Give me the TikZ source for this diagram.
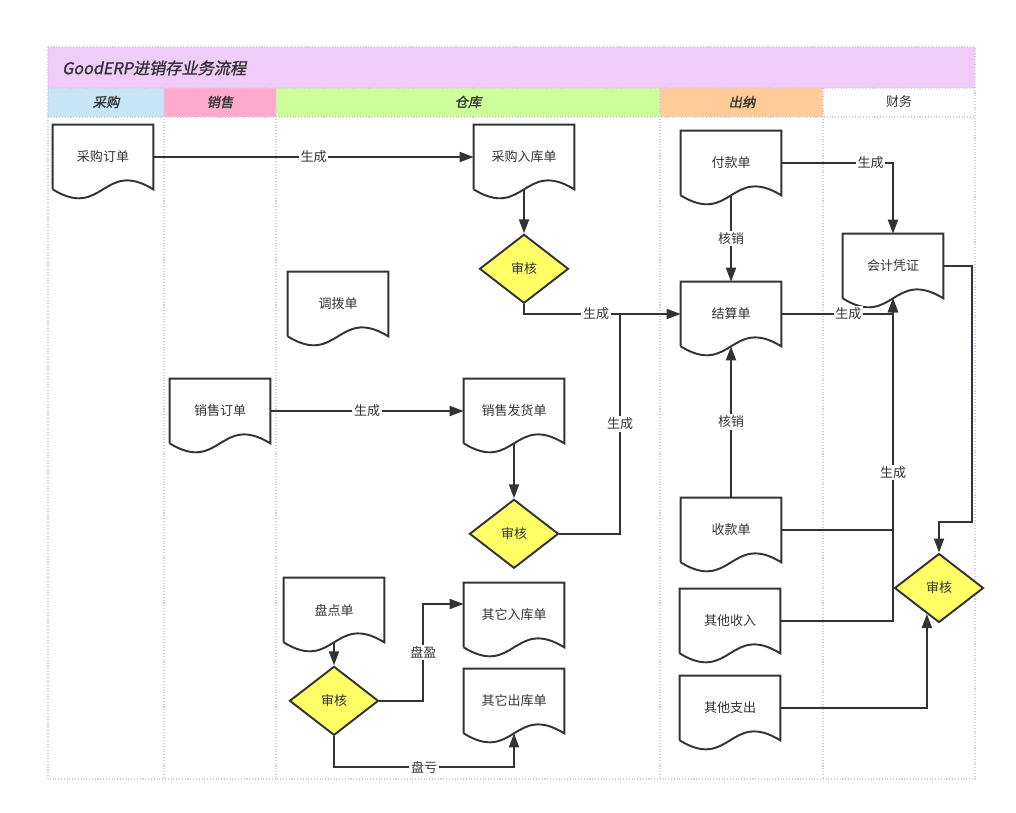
\documentclass[tikz,border=0pt]{standalone}
\usepackage{fontspec}
\setmainfont{Noto Sans CJK SC}
\newfontfamily\titlefont[FakeSlant=0.2, FakeBold=1.2]{Noto Sans CJK SC}
\newfontfamily\headfont[FakeSlant=0.2, FakeBold=1.2]{Noto Sans CJK SC}
\usepackage{xcolor}
\definecolor{erpline}{HTML}{333333}
\definecolor{erptitle}{HTML}{EFCCFA}
\definecolor{erpbuy}{HTML}{C6E6F7}
\definecolor{erpsale}{HTML}{FFAACC}
\definecolor{erpstock}{HTML}{CCFF99}
\definecolor{erpcash}{HTML}{FFCC99}
\definecolor{erpcheck}{HTML}{FFFF66}
\definecolor{erplane}{HTML}{DCC8E2}
\usetikzlibrary{shapes.geometric, arrows.meta, positioning, calc}

\begin{document}
\begin{tikzpicture}[
  x=0.02cm, y=-0.02cm, text=erpline,
  font=\fontsize{7.4}{9}\selectfont,
  doc/.style={rectangle, minimum width=2cm, minimum height=1.28cm,
              inner sep=0pt, align=center},
  check/.style={diamond, draw=erpline, fill=erpcheck, line width=1.1pt,
                minimum width=1.78cm, minimum height=1.38cm, inner sep=0pt},
  docline/.style={draw=erpline, line width=1.1pt, line join=miter},
  arr/.style={-{Triangle[length=0.28cm, width=0.2cm]}, line width=1.1pt,
              color=erpline},
  link/.style={line width=1.1pt, color=erpline},
  lbl/.style={fill=white, inner sep=1pt},
  lane/.style={draw=erplane, densely dotted, line width=0.6pt},
  head/.style={font=\headfont\fontsize{7.6}{9}\selectfont}
]
  \useasboundingbox (0,0) rectangle (1016,812);

  % pool, title band and lane heads
  \fill[erptitle] (48,47) rectangle (975,88);
  \fill[erpbuy]   (48,88)  rectangle (164,117);
  \fill[erpsale]  (164,88) rectangle (276,117);
  \fill[erpstock] (276,88) rectangle (660,117);
  \fill[erpcash]  (660,88) rectangle (823,117);
  \draw[lane] (48,47) rectangle (975,779);
  \draw[lane] (48,88) -- (975,88) (48,117) -- (975,117);
  \foreach \lx in {164,276,660,823}
    \draw[lane] (\lx,88) -- (\lx,779);

  \node[anchor=west, font=\titlefont\fontsize{9.2}{11}\selectfont]
    (title) at (56,68) {GoodERP进销存业务流程};
  \node[head] (hbuy)   at (106,102) {采购};
  \node[head] (hsale)  at (220,102) {销售};
  \node[head] (hstock) at (468,102) {仓库};
  \node[head] (hcash)  at (742,102) {出纳};
  \node       (hfin)   at (899,102) {财务};

  % documents
  \node[doc] (cgdd) at (103,157) {采购订单};
  \node[doc] (cgrk) at (524,157) {采购入库单};
  \node[doc] (dbd)  at (338,304) {调拨单};
  \node[doc] (fkd)  at (731,163) {付款单};
  \node[doc] (pz)   at (893,266) {会计凭证};
  \node[doc] (jsd)  at (731,314) {结算单};
  \node[doc] (xsdd) at (220,411) {销售订单};
  \node[doc] (xsfh) at (514,411) {销售发货单};
  \node[doc] (skd)  at (731,530) {收款单};
  \node[doc] (qtsr) at (730,621) {其他收入};
  \node[doc] (qtzc) at (730,708) {其他支出};
  \node[doc] (pdd)  at (334,610) {盘点单};
  \node[doc] (qtrk) at (514,615) {其它入库单};
  \node[doc] (qtck) at (514,701) {其它出库单};

  \foreach \d in {cgdd,cgrk,dbd,fkd,pz,jsd,xsdd,xsfh,skd,qtsr,qtzc,pdd,qtrk,qtck}
    \draw[docline] (\d.south west) -- (\d.north west) -- (\d.north east)
      -- (\d.south east) .. controls ($(\d.south)+(0,-31)$)
      and ($(\d.south)+(0,31)$) .. (\d.south west);

  % checks
  \node[check, below=0.88cm of cgrk] (sh1) {审核};
  \node[check, below=1.1cm of xsfh]  (sh2) {审核};
  \node[check] (sh3) at (939,588) {审核};
  \node[check, below=0.46cm of pdd]  (sh4) {审核};

  % purchase and sale
  \draw[arr] (cgdd.east) -- node[lbl] {生成} (cgrk.west);
  \draw[arr] (cgrk.south) -- (sh1.north);
  \draw[arr] (sh1.south) |- node[lbl, pos=0.73] {生成} (jsd.west);
  \coordinate (jn) at (620,314);
  \draw[link] (sh2.east) -| node[lbl, pos=0.75] {生成} (jn);
  \draw[arr] (xsdd.east) -- node[lbl] {生成} (xsfh.west);
  \draw[arr] (xsfh.south) -- (sh2.north);

  % cashier and finance
  \draw[arr] (fkd.south) -- node[lbl] {核销} (jsd.north);
  \draw[arr] (skd.north) -- node[lbl] {核销} (jsd.south);
  \draw[arr] (fkd.east) -| node[lbl, pos=0.4] {生成} (pz.north);
  \draw[arr] (jsd.east) -| node[lbl, pos=0.3] {生成} (pz.south);
  \draw[arr] (qtsr.east) -| node[lbl, pos=0.73] {生成} (pz.south);
  \draw[link] (skd.east) -- (skd.east -| pz.south);
  \coordinate (fold) at (972,522);
  \draw[arr] (pz.east) -| (fold) -| (sh3.north);
  \draw[arr] (qtzc.east) -| (sh3.-115);

  % stock count
  \draw[arr] (pdd.south) -- (sh4.north);
  \draw[arr] (sh4.east) -- ++(44,0) |- node[lbl, pos=0.25] {盘盈}
    ($(qtrk.west)+(0,-11)$);
  \draw[arr] (sh4.south) -- ++(0,31) -| node[lbl, pos=0.25] {盘亏}
    (qtck.south);
\end{tikzpicture}
\end{document}
